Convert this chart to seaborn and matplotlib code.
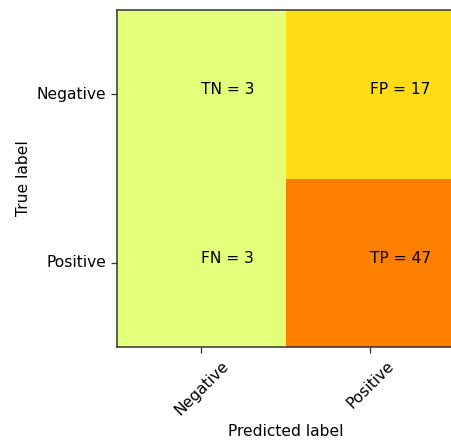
import numpy as np
import pandas as pd
import matplotlib
matplotlib.use("Agg")
import matplotlib.pyplot as plt
import seaborn as sns

class_names = ["Negative", "Positive"]
cell_codes = [["TN", "FP"], ["FN", "TP"]]
cm_values = [[3, 17], [3, 47]]

df = pd.DataFrame(cm_values, index=class_names, columns=class_names)

FS = 11.2
fig = plt.figure(figsize=(4.51, 4.41), dpi=100)
ax = fig.add_axes([117/451, 94/441, 338/451, 337/441])
sns.heatmap(df, cmap="Wistia", cbar=False, ax=ax, square=False,
            linewidths=0)
for s in ax.spines.values():
    s.set_visible(True)
    s.set_color("#333333")
    s.set_linewidth(1.1)

for i in range(2):
    for j in range(2):
        ax.text(j + 0.5, i + 0.5, f"{cell_codes[i][j]} = {cm_values[i][j]}",
                fontsize=FS, color="black")

ax.set_xticks([0.5, 1.5])
ax.set_yticks([0.5, 1.5])
ax.set_xticklabels(class_names, rotation=45, fontsize=FS)
ax.set_yticklabels(class_names, rotation=0, fontsize=FS)
ax.tick_params(axis="both", length=4.5, width=0.9, color="#333333", pad=3.5)
ax.set_xlabel("Predicted label", fontsize=FS, labelpad=4)
ax.set_ylabel("True label", fontsize=FS, labelpad=4)

fig.savefig("out.png", dpi=100)
